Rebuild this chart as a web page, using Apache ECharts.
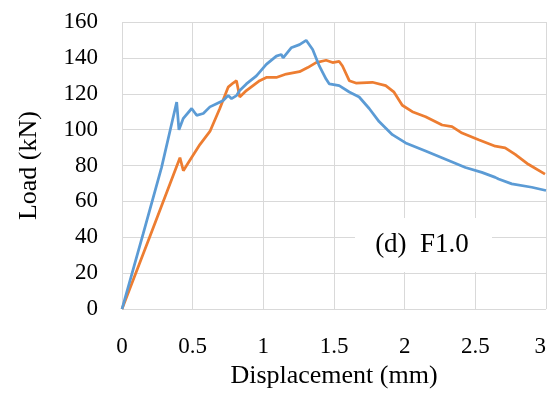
<!DOCTYPE html>
<html>
<head>
<meta charset="utf-8">
<script src="https://cdn.jsdelivr.net/npm/echarts@6/dist/echarts.min.js"></script>
<style>
html,body{margin:0;padding:0;background:#fff;}
#chart{width:549px;height:394px;}
</style>
</head>
<body>
<div id="chart"></div>
<script>
// Displacement (mm) values for each curve
var blueX = [0, 0.15, 0.28, 0.387, 0.403, 0.434, 0.493, 0.528, 0.575, 0.622, 0.669, 0.716, 0.751, 0.775, 0.81, 0.833, 0.88, 0.951, 1.021, 1.092, 1.127, 1.14, 1.197, 1.256, 1.303, 1.349, 1.396, 1.444, 1.467, 1.537, 1.608, 1.678, 1.749, 1.819, 1.913, 2.007, 2.148, 2.289, 2.43, 2.546, 2.641, 2.664, 2.758, 2.899, 3.0];
// Load (kN) values
var blueY = [0, 42, 79, 115.4, 99.9, 106.3, 111.8, 108, 109, 112.7, 114.5, 116.3, 119, 117.3, 119, 121.8, 125.5, 130, 136.4, 141, 141.9, 140, 145.6, 147.4, 149.8, 144.7, 135.5, 128.2, 125.5, 124.5, 121, 118.2, 111.8, 104.5, 97.2, 92.6, 88.1, 83.5, 78.9, 76.2, 73.4, 72.5, 69.8, 67.9, 66.1];
var orangeX = [0, 0.2, 0.41, 0.434, 0.469, 0.551, 0.622, 0.692, 0.751, 0.786, 0.81, 0.833, 0.88, 0.974, 1.021, 1.092, 1.162, 1.256, 1.314, 1.373, 1.444, 1.49, 1.537, 1.56, 1.608, 1.655, 1.772, 1.866, 1.925, 1.983, 2.054, 2.148, 2.265, 2.335, 2.406, 2.523, 2.641, 2.711, 2.782, 2.875, 2.993];
var orangeY = [0, 41, 84.4, 77.1, 81.6, 91.7, 99, 111.8, 123.7, 126, 127.3, 118.2, 121.8, 127.3, 129.1, 129.1, 131, 132.3, 134.6, 137.4, 138.7, 137.4, 138, 135.5, 127.3, 126, 126.4, 124.5, 120.9, 113.6, 110, 107.2, 102.6, 101.7, 98.1, 94.4, 90.8, 89.9, 86.2, 80.7, 75.2];
var xTicks = [0, 0.5, 1, 1.5, 2, 2.5, 3];
var yTicks = [0, 20, 40, 60, 80, 100, 120, 140, 160];
var xTitle = 'Displacement (mm)';
var yTitle = 'Load (kN)';
var note = '(d)  F1.0';

function pairs(xs, ys){ return xs.map(function(x,i){ return [x, ys[i]]; }); }

var FONT = "Liberation Serif";
var tickRich = {t: {fontFamily: FONT, fontSize: 23, color: '#000'}};
function tickFmt(v){ return '{t|' + v + '}'; }
var chart = echarts.init(document.getElementById('chart'), null, {renderer:'canvas'});
chart.setOption({
  animation: false,
  backgroundColor: '#fff',
  textStyle: {fontFamily: FONT},
  grid: {left: 122, right: 1, top: 22, bottom: 80, containLabel: false},
  xAxis: {
    type: 'value', min: xTicks[0], max: xTicks[xTicks.length-1], interval: 0.5,
    name: xTitle, nameLocation: 'middle', nameGap: 50,
    nameTextStyle: {fontFamily: FONT, fontSize: 26, color: '#000'},
    axisLine: {show: false}, axisTick: {show: false},
    axisLabel: {fontFamily: FONT, fontSize: 23, color: '#000', margin: 26, alignMaxLabel: 'right',
                formatter: tickFmt, rich: tickRich},
    splitLine: {show: true, lineStyle: {color: '#d9d9d9', width: 1}}
  },
  yAxis: {
    type: 'value', min: yTicks[0], max: yTicks[yTicks.length-1], interval: 20,
    name: yTitle, nameLocation: 'middle', nameGap: 80,
    nameTextStyle: {fontFamily: FONT, fontSize: 26, color: '#000'},
    axisLine: {show: false}, axisTick: {show: false},
    axisLabel: {fontFamily: FONT, fontSize: 23, color: '#000', margin: 24,
                formatter: tickFmt, rich: tickRich},
    splitLine: {show: true, lineStyle: {color: '#d9d9d9', width: 1}}
  },
  series: [
    {type: 'line', data: pairs(blueX, blueY), showSymbol: false, smooth: false,
     lineStyle: {color: '#5b9bd5', width: 2.75}, itemStyle: {color: '#5b9bd5'}, z: 3},
    {type: 'line', data: pairs(orangeX, orangeY), showSymbol: false, smooth: false,
     lineStyle: {color: '#ed7d31', width: 2.75}, itemStyle: {color: '#ed7d31'}, z: 2}
  ],
  graphic: [
    {type: 'rect', left: 355, top: 218, shape: {width: 137, height: 54}, style: {fill: '#fff'}, z: 10},
    {type: 'text', x: 422, y: 245, z: 11,
     style: {text: note, fontFamily: FONT, fontSize: 27, fill: '#000', align: 'center', verticalAlign: 'middle'}}
  ]
});
</script>
</body>
</html>
